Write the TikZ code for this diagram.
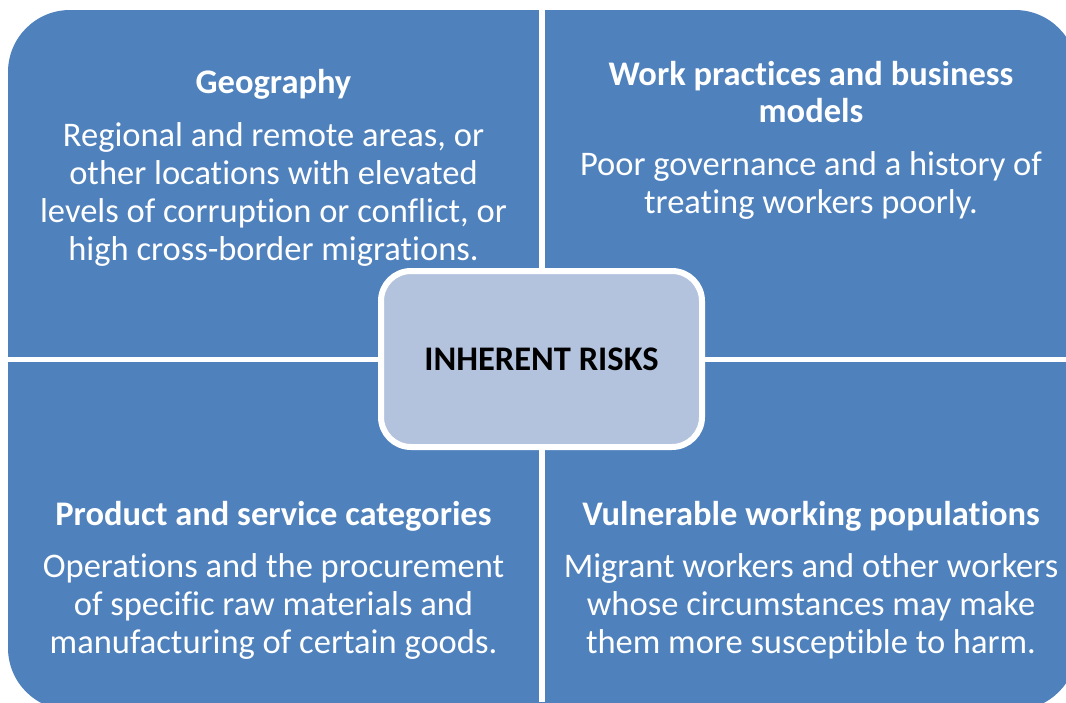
\documentclass[tikz,border=0pt]{standalone}
\usepackage{fontspec}
\setmainfont{Carlito}[Ligatures=NoCommon]
\definecolor{quadblue}{RGB}{79,129,189}
\definecolor{coreblue}{RGB}{179,195,222}
\tikzset{
  head/.style={text=white,font=\bfseries\fontsize{34.5}{37.7}\selectfont,align=center,anchor=base},
  body/.style={text=white,font=\fontsize{34.5}{37.7}\selectfont,align=center,anchor=base},
}
\begin{document}
\begin{tikzpicture}[x=1pt,y=-1pt]
  \clip (0,0) rectangle (1066,702);
  % quadrants
  \fill[quadblue,rounded corners=62pt] (8,10) rectangle (1077,710);
  \draw[white,line width=6pt] (542,0) -- (542,702);
  \draw[white,line width=5pt] (0,359.5) -- (1066,359.5);
  % centre
  \node[draw=white,line width=6pt,fill=coreblue,rounded corners=30pt,
        minimum width=321pt,minimum height=176pt,
        font=\bfseries\fontsize{34.5}{37.7}\selectfont] (core) at (541.5,359) {INHERENT RISKS};
  % texts (base = last line)
  \node[head] (geo) at (273.5,93) {Geography};
  \node[body] (geotxt) at (273.5,260) {Regional and remote areas, or\\other locations with elevated\\levels of corruption or conflict, or\\high cross-border migrations.};
  \node[head] (work) at (811,122.7) {Work practices and business\\models};
  \node[body] (worktxt) at (811,213) {Poor governance and a history of\\treating workers poorly.};
  \node[head] (prod) at (273.5,525) {Product and service categories};
  \node[body] (prodtxt) at (273.5,653) {Operations and the procurement\\of specific raw materials and\\manufacturing of certain goods.};
  \node[head] (vuln) at (811,525) {Vulnerable working populations};
  \node[body] (vulntxt) at (811,653) {Migrant workers and other workers\\whose circumstances may make\\them more susceptible to harm.};
\end{tikzpicture}
\end{document}
